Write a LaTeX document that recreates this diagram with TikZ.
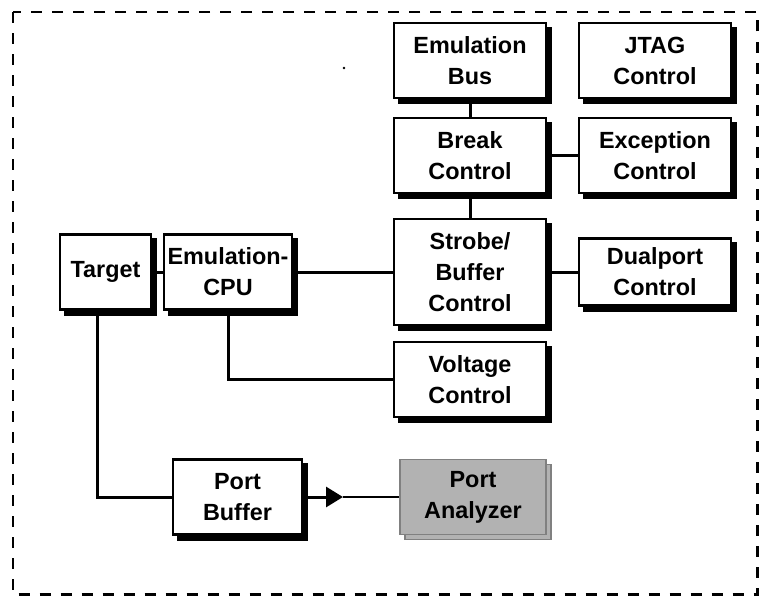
\documentclass[tikz,border=0pt]{standalone}
\usepackage{fontspec}
\setmainfont{Liberation Sans}
\usepackage{xcolor}
\usetikzlibrary{shapes,arrows,arrows.meta,positioning,shadows}

\begin{document}
\begin{tikzpicture}[x=1pt, y=-1pt, auto]
% Define styles
\tikzstyle{block} = [rectangle, minimum width=152pt, minimum height=75pt, inner sep=0pt, align=center, draw=black, line width=2.6pt, fill=white, font=\fontsize{23.4}{31}\selectfont\bfseries, general shadow={shadow xshift=5pt, shadow yshift=-5pt, fill=black, draw=black, line width=2.6pt}]
\tikzstyle{analyzer} = [rectangle, minimum width=146pt, minimum height=75pt, inner sep=0pt, align=center, draw=gray, line width=1.6pt, fill=gray!60, font=\fontsize{23.4}{31}\selectfont\bfseries, copy shadow={shadow xshift=5pt, shadow yshift=-5pt, fill=gray!60, draw=gray, line width=1.6pt}]
\tikzstyle{line} = [line width=3pt]
\tikzstyle{thinline} = [line width=1.5pt]
\tikzstyle{arrow} = [line width=3pt, -{Triangle[length=17pt, width=20pt]}]

% Frame
\useasboundingbox (0,0) rectangle (760,597);
\draw [line width=2.8pt, dash pattern=on 11pt off 10pt] (13,12) rectangle (757.5,594.5);
\fill (344,68) circle (1.3pt);

% Define nodes
\node (embus) [block] at (470,60.5) {Emulation\\Bus};
\node (jtag) [block, node distance=185pt, right of=embus] {JTAG\\Control};
\node (break) [block, node distance=95pt, below of=embus] {Break\\Control};
\node (except) [block, node distance=185pt, right of=break] {Exception\\Control};
\node (strobe) [block, node distance=116.5pt, below of=break, minimum height=106pt] {Strobe/\\Buffer\\Control};
\node (dualport) [block, node distance=185pt, right of=strobe, minimum height=67pt] {Dualport\\Control};
\node (voltage) [block, node distance=107.5pt, below of=strobe] {Voltage\\Control};
\node (cpu) [block, node distance=242pt, left of=strobe, minimum width=128pt] {Emulation-\\CPU};
\node (target) [block, node distance=122.5pt, left of=cpu, minimum width=91pt] {Target};
\node (portbuf) [block, node distance=225pt, below of=cpu, xshift=9.5pt, minimum width=129pt] {Port\\Buffer};
\node (analyzer) [analyzer, node distance=235.5pt, right of=portbuf] {Port\\Analyzer};
\coordinate [node distance=105.5pt, right of=portbuf] (tip);

% Draw connectors
\draw [line] (embus) -- (break);
\draw [line] (break) -- (except);
\draw [line] (break) -- (strobe);
\draw [line] (strobe) -- (dualport);
\draw [line] (cpu) -- (strobe);
\draw [line] (target) -- (cpu);
\draw [line] (cpu.south) |- (voltage.west);
\draw [line] ([xshift=-8pt]target.south) |- (portbuf.west);
\draw [arrow] (portbuf.east) -- (tip);
\draw [thinline] (tip) -- (analyzer.west);
\end{tikzpicture}
\end{document}
